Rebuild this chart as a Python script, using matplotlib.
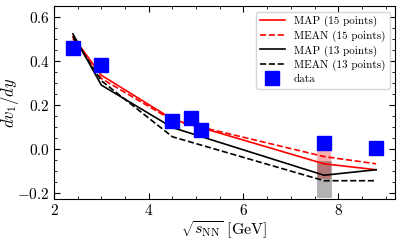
import numpy as np
import matplotlib
matplotlib.use("Agg")
import matplotlib.pyplot as plt
from matplotlib.ticker import MultipleLocator

plt.rcParams['font.family'] = 'serif'
plt.rcParams['font.serif'] = ['cmr10']
plt.rcParams['mathtext.fontset'] = 'cm'
plt.rcParams['axes.formatter.use_mathtext'] = True

# model curves
x_model = [2.4, 3.0, 4.5, 7.7, 8.8]
map15 = [0.51, 0.335, 0.135, -0.068, -0.095]
mean15 = [0.50, 0.32, 0.13, -0.035, -0.068]
map13 = [0.523, 0.29, 0.097, -0.12, -0.095]
mean13 = [0.51, 0.31, 0.055, -0.145, -0.145]

# data
x_data = [2.4, 3.0, 4.5, 4.9, 5.1, 7.7, 8.8]
y_data = [0.46, 0.38, 0.125, 0.14, 0.085, 0.027, 0.005]
y_err = [0.0, 0.0, 0.03, 0.0, 0.0, 0.0, 0.0]

# uncertainty bands at 7.7 GeV
band_x = [7.55, 7.85]
band15 = (-0.135, 0.035)
band13 = (-0.22, -0.055)

fig = plt.figure(figsize=(4.15, 2.4), dpi=100)
ax = fig.add_axes([0.13, 0.171, 0.822, 0.804])

ax.plot(x_model, map15, color='red', lw=1.2, label='MAP (15 points)')
ax.plot(x_model, mean15, color='red', lw=1.2, ls='--', label='MEAN (15 points)')
ax.plot(x_model, map13, color='black', lw=1.2, label='MAP (13 points)')
ax.plot(x_model, mean13, color='black', lw=1.2, ls='--', label='MEAN (13 points)')

ax.fill_between(band_x, band15[0], band15[1], color='red', alpha=0.32, lw=0)
ax.fill_between(band_x, band13[0], band13[1], facecolor='black', alpha=0.3,
                edgecolor='dimgray', lw=0.8)

ax.errorbar(x_data, y_data, yerr=y_err, fmt='s', color='blue', ms=10,
            elinewidth=1.2, capsize=0, label='data', zorder=5)

ax.set_xlim(2, 9.2)
ax.set_ylim(-0.228, 0.65)
ax.xaxis.set_major_locator(MultipleLocator(2))
ax.xaxis.set_minor_locator(MultipleLocator(0.5))
ax.yaxis.set_major_locator(MultipleLocator(0.2))
ax.yaxis.set_minor_locator(MultipleLocator(0.05))
ax.tick_params(which='both', direction='in', top=True, right=True, labelsize=11)
ax.tick_params(which='major', length=4, pad=3)
ax.tick_params(which='minor', length=2)

ax.set_xlabel(r'$\sqrt{s_{\rm NN}}$ [GeV]', fontsize=11.5, labelpad=1)
ax.set_ylabel(r'$dv_1/dy$', fontsize=12)
ax.yaxis.set_label_coords(-0.097, 0.5)

ax.legend(loc='upper right', fontsize=8, handlelength=2.2, labelspacing=0.3,
          borderpad=0.4, handletextpad=0.8)

fig.savefig('out.png', dpi=100)
